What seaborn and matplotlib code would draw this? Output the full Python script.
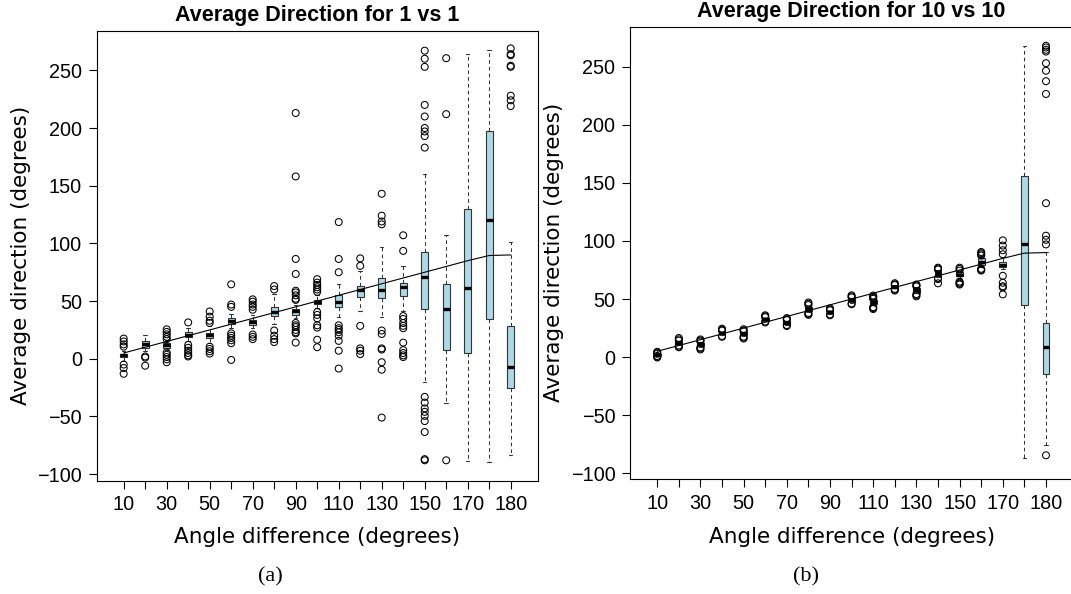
import numpy as np
import pandas as pd
import matplotlib
matplotlib.use("Agg")
import matplotlib.pyplot as plt
import seaborn as sns

# ---------------- data ----------------
categories = [10, 20, 30, 40, 50, 60, 70, 80, 90, 100, 110, 120, 130, 140, 150, 160, 170, 179, 180]
tick_labels = ["10", "", "30", "", "50", "", "70", "", "90", "", "110", "", "130", "", "150", "", "170", "", "180"]
expected = [5, 10, 15, 20, 25, 30, 35, 40, 45, 50, 55, 60, 65, 70, 75, 80, 85, 89.5, 90]

# Panel (a): 1 vs 1
a_q1 = [1.5, 9.5, 9.6, 19, 18, 30, 29.5, 37, 38, 47.5, 45, 53.5, 53, 54.5, 43, 8, 5, 34.5, -25]
a_med = [3.5, 13, 11.6, 21, 20.5, 32.5, 31.5, 40.5, 41, 49.5, 49.5, 59.5, 60, 62.5, 71, 43.5, 61, 120, -7]
a_q3 = [4.5, 15, 14, 23, 22.5, 35, 34, 45, 43.5, 51, 55, 63, 70, 66, 92.5, 65, 129.5, 197, 28]
a_wlo = [-2, 7, 8, 15, 14, 27, 27, 30, 35, 44, 36, 41, 36.5, 41, -20.5, -38.5, -89, -89.5, -83]
a_whi = [7, 21, 16, 27, 28, 39, 38, 56, 47, 55, 65, 76, 96.5, 80.5, 160.5, 107.5, 264, 268, 101.5]
a_out = [
    [17.5, 15, 12.5, 10.5, -5, -8, -13],
    [2, 1, -6],
    [25.5, 23.3, 21.2, 19, 17, 5.5, 3.5, 1.5, -0.5, -3],
    [31.5, 12, 9.5, 7, 5, 3, 2],
    [41, 36.5, 33, 31, 10.5, 8.5, 6.5, 4.5],
    [64.5, 47, 45, 22, 20, 18, 16, 13.5, -1],
    [51.5, 49.5, 47, 45, 42.5, 21, 19, 17],
    [63, 60, 24.5, 20, 17, 14.5],
    [213, 158, 86.5, 73.5, 59, 57.5, 55, 52, 51, 31, 29, 27.5, 25, 23, 22, 14],
    [69, 66, 64, 62, 60, 58, 40.5, 38, 35, 29, 27, 16.5, 10],
    [118.5, 86.5, 75, 29, 26.5, 25, 23, 20, 15.5, 7, -8.5],
    [87, 80.5, 28.5, 9, 7, 4],
    [143, 124, 119, 116.5, 24.5, 21.5, 9, 8, -3, -9.5, -51],
    [107, 93.5, 37, 34.5, 31, 28.5, 26.5, 14, 7.5, 5, 3, 1.5],
    [267, 260, 253, 220, 210, 200, 197, 193, 183, -33, -38, -43, -46, -49.5, -54, -63.5, -87, -88],
    [260.5, 212, -88],
    [],
    [],
    [269, 264, 263, 254, 253, 228, 224, 219],
]

# Panel (b): 10 vs 10
b_q1 = [1.5, 11.5, 9.8, 19.5, 19, 31.5, 28.5, 39.5, 37.5, 47.5, 45.5, 59.5, 55.5, 70, 69.5, 79, 77.5, 45, -14.5]
b_med = [2, 12.5, 11, 20.5, 20.5, 32.5, 29.5, 41.5, 38.5, 49, 47.5, 60.5, 57.5, 72, 71, 82, 79.5, 97, 9]
b_q3 = [2.5, 13.5, 12.3, 21.5, 21.5, 33.5, 31, 43.5, 39.5, 50.5, 49.5, 61.5, 59.5, 74, 73, 85, 81.5, 156, 29]
b_wlo = [1.2, 10.8, 9, 19, 18.4, 31, 28, 39, 37, 47, 44.5, 59.2, 55, 69.2, 68.5, 78, 76, -87, -76]
b_whi = [2.8, 14, 12.8, 22, 22, 34, 31.4, 44, 40, 51, 50, 62, 60, 74.8, 74, 86, 86, 267.5, 90.5]
b_out = [
    [4.6, 3.8, 3, 1, 0.3, -0.3],
    [16.5, 15.3, 14.2, 10, 9, 8.5],
    [15.2, 14.3, 13.4, 8.3, 7.5, 6.6],
    [24.5, 23.5, 22.8, 18.2, 17.5],
    [24, 23, 22.3, 17.6, 16.8, 16],
    [36, 35.2, 34.4, 30.7, 29.8],
    [33.6, 32.7, 31.9, 27.6, 26.8],
    [47, 46, 44.8, 38, 37.2, 36.4],
    [42, 41, 40.3, 36.8, 36],
    [53.2, 52.3, 51.4, 46.2, 45.5],
    [53, 52, 51, 50.2, 43, 42.2, 41.4],
    [63.6, 62.7, 62, 58.7, 58, 57.3],
    [62.5, 61.7, 60.8, 54.3, 53.3, 52.3],
    [77, 76.2, 75.4, 68, 67.2, 63.5],
    [77, 76, 74.5, 65, 64, 63.2, 62.5],
    [90.5, 89.5, 88.5, 87.4, 76, 75.2, 74.5],
    [100.5, 96, 92, 88.5, 70, 64, 61, 60, 54],
    [],
    [268, 266.5, 264.5, 263, 253, 246.5, 237.5, 226.5, 132.5, 104.5, 101, 97, -84.5],
]

# ---------------- style ----------------
sns.set_theme(style="ticks")
plt.rcParams["font.family"] = ["Liberation Sans", "DejaVu Sans"]
for key in ["text.color", "axes.labelcolor", "xtick.color", "ytick.color",
            "xtick.labelcolor", "ytick.labelcolor", "axes.edgecolor"]:
    plt.rcParams[key] = "black"
plt.rcParams["axes.linewidth"] = 0.8

BOX_FILL = "#ADD8E6"
EDGE = "#333333"


def draw_panel(ax, q1, med, q3, wlo, whi, outliers, title, ylim, yl_x, xl_y):
    pos = list(range(len(categories)))
    stats = [dict(q1=a, med=m, q3=b, whislo=lo, whishi=hi, fliers=[], label=str(c))
             for a, m, b, lo, hi, c in zip(q1, med, q3, wlo, whi, categories)]
    ax.bxp(stats, positions=pos, widths=0.32, capwidths=0.16, patch_artist=True,
           showfliers=False,
           boxprops=dict(facecolor=BOX_FILL, edgecolor=EDGE, linewidth=0.8),
           medianprops=dict(color="black", linewidth=2.4, solid_capstyle="butt"),
           whiskerprops=dict(color=EDGE, linewidth=0.75, linestyle=(0, (3.5, 3))),
           capprops=dict(color=EDGE, linewidth=0.8))
    rows = [(p, v) for p, vals in zip(pos, outliers) for v in vals]
    df = pd.DataFrame(rows, columns=["pos", "val"])
    sns.scatterplot(data=df, x="pos", y="val", ax=ax, marker="o", s=25,
                    facecolor="none", edgecolor="black", linewidth=0.75,
                    legend=False, zorder=3)
    sns.lineplot(x=pos, y=expected, ax=ax, color="black", linewidth=0.8, zorder=4)

    ax.set_xlim(-1.26, len(categories) - 1 + 1.26)
    ax.set_ylim(*ylim)
    ax.set_xticks(pos)
    ax.set_xticklabels(tick_labels)
    ax.set_yticks([-100, -50, 0, 50, 100, 150, 200, 250])
    ax.tick_params(axis="both", direction="out", length=5.5, width=0.8, pad=5,
                   labelsize=14.3, color="black", labelcolor="black")
    for s in ax.spines.values():
        s.set_visible(True)
        s.set_color("black")
        s.set_linewidth(0.8)
    ax.set_title(title, fontsize=15.5, fontweight="bold", pad=7, color="black",
                 family=["Liberation Sans", "DejaVu Sans"])
    ax.set_ylabel("Average direction (degrees)", fontsize=15.5, family="DejaVu Sans",
                  color="black")
    ax.set_xlabel("Angle difference (degrees)", fontsize=15.5, family="DejaVu Sans",
                  color="black")
    ax.yaxis.set_label_coords(yl_x, 0.5)
    ax.xaxis.set_label_coords(0.5, xl_y)
    ax.xaxis.label.set_va("center")
    ax.yaxis.label.set_va("center")


fig = plt.figure(figsize=(10.71, 5.94), dpi=100)
fig.patch.set_facecolor("white")

W, H = 1071.0, 594.0
ax_a = fig.add_axes([96.6 / W, 1 - 480.5 / H, 441.2 / W, 450.0 / H])
ax_b = fig.add_axes([630.0 / W, 1 - 479.0 / H, 443.2 / W, 452.3 / H])

draw_panel(ax_a, a_q1, a_med, a_q3, a_wlo, a_whi, a_out,
           "Average Direction for 1 vs 1", (-105.5, 284.5), -0.171, -(537 - 480.5) / 450.0)
draw_panel(ax_b, b_q1, b_med, b_q3, b_wlo, b_whi, b_out,
           "Average Direction for 10 vs 10", (-104.9, 284.4), -0.171, -(537 - 479.0) / 452.3)

fig.text(270 / W, 1 - 577 / H, "(a)", ha="center", va="center", fontsize=16,
         family="Liberation Serif", color="black")
fig.text(805.5 / W, 1 - 577 / H, "(b)", ha="center", va="center", fontsize=16,
         family="Liberation Serif", color="black")

fig.savefig("out.png", dpi=100, facecolor="white")
